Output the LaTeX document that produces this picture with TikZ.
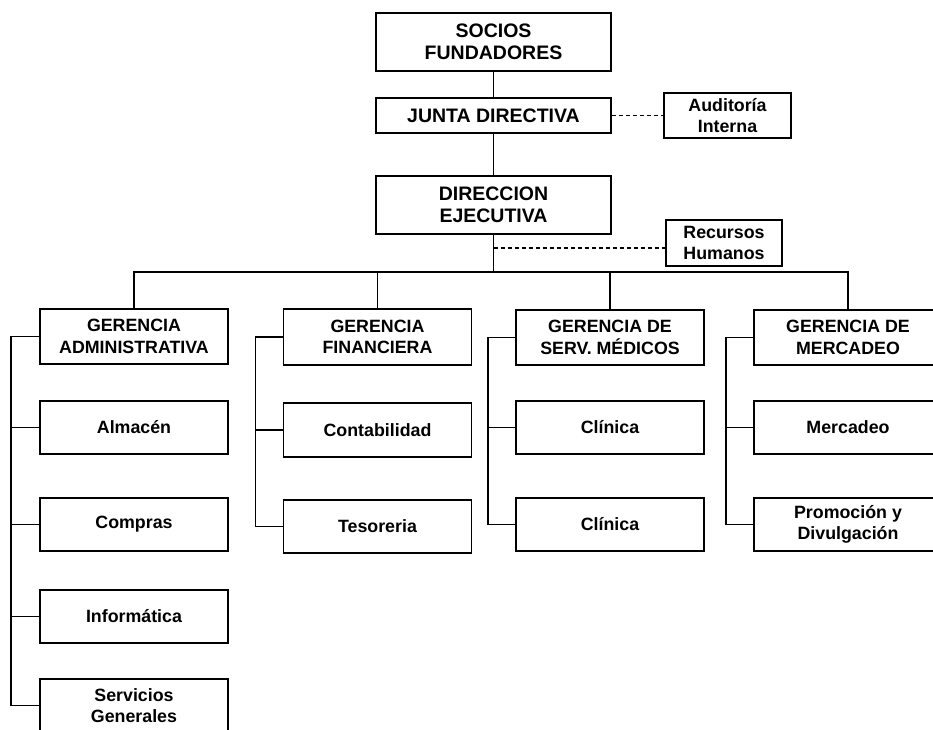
\documentclass[tikz,border=0pt]{standalone}
\usepackage{fontspec}
\setmainfont{Liberation Sans}
\begin{document}
\begin{tikzpicture}[x=1pt,y=-1pt,
  box/.style={draw=black,line width=1.7pt,fill=white,align=center,font=\bfseries\fontsize{17.8}{21.5}\selectfont,inner sep=0pt,minimum width=188pt,minimum height=53pt},
  topbox/.style={box,font=\bfseries\fontsize{19.5}{21.5}\selectfont,minimum width=235pt},
  sidebox/.style={box,font=\bfseries\fontsize{17.8}{21.5}\selectfont},
  link/.style={line width=1.5pt},
  dlink/.style={line width=1.5pt,dash pattern=on 4pt off 3pt}]
\path[use as bounding box] (0,0) rectangle (933,729);
\clip (0,0) rectangle (933,729);
% top
\node[topbox,minimum height=58pt] (soc) at (493.5,42) {SOCIOS\\FUNDADORES};
\node[topbox,minimum height=35pt] (junta) at (493.5,115.5) {JUNTA DIRECTIVA};
\node[sidebox,minimum width=127pt,minimum height=45pt] (aud) at (727.5,115.5) {Auditoría\\Interna};
\node[topbox,minimum height=58pt] (dir) at (493.5,205) {DIRECCION\\EJECUTIVA};
\node[sidebox,minimum width=116pt,minimum height=46pt] (rh) at (724,243) {Recursos\\Humanos};
% managers
\node[box,minimum height=55pt] (gadm) at (134,336.5) {GERENCIA\\ADMINISTRATIVA};
\node[box,minimum height=56pt] (gfin) at (377.5,337) {GERENCIA\\FINANCIERA};
\node[box,minimum height=55pt] (gmed) at (610,337.5) {GERENCIA DE\\SERV. MÉDICOS};
\node[box,minimum height=55pt] (gmer) at (848,337.5) {GERENCIA DE\\MERCADEO};
% units
\node[box] (alm) at (134,427.5) {Almacén};
\node[box] (com) at (134,524.5) {Compras};
\node[box] (inf) at (134,616.5) {Informática};
\node[box] (ser) at (134,705.5) {Servicios\\Generales};
\node[box,minimum height=54pt] (con) at (377.5,430) {Contabilidad};
\node[box] (tes) at (377.5,526.5) {Tesoreria};
\node[box] (cli1) at (610,427.5) {Clínica};
\node[box] (cli2) at (610,524.5) {Clínica};
\node[box] (mkt) at (848,427.5) {Mercadeo};
\node[box] (pro) at (848,524.5) {Promoción y\\Divulgación};
% coordinates
\coordinate (bus) at (0,272);
\coordinate (rhin) at (666,248);
% connectors top
\draw[link] (soc.south) -- (junta.north);
\draw[link] (junta.south) -- (dir.north);
\draw[dlink] (junta.east) -- (aud.west);
\draw[dlink] (dir.south |- rhin) -- (rhin);
\draw[link] (dir.south) -- (dir.south |- bus);
\draw[link] (gadm.north) -- (gadm.north |- bus) -- (gmer.north |- bus) -- (gmer.north);
\draw[link] (gfin.north |- bus) -- (gfin.north);
\draw[link] (gmed.north |- bus) -- (gmed.north);
% spines
\draw[link] (gadm.west) -- ++(-28,0) |- (ser.west);
\draw[link] (alm.west) -- ++(-28,0);
\draw[link] (com.west) -- ++(-28,0);
\draw[link] (inf.west) -- ++(-28,0);
\draw[link] (gfin.west) -- ++(-27,0) |- (tes.west);
\draw[link] (con.west) -- ++(-27,0);
\draw[link] (gmed.west) -- ++(-27,0) |- (cli2.west);
\draw[link] (cli1.west) -- ++(-27,0);
\draw[link] (gmer.west) -- ++(-27,0) |- (pro.west);
\draw[link] (mkt.west) -- ++(-27,0);
\end{tikzpicture}
\end{document}
